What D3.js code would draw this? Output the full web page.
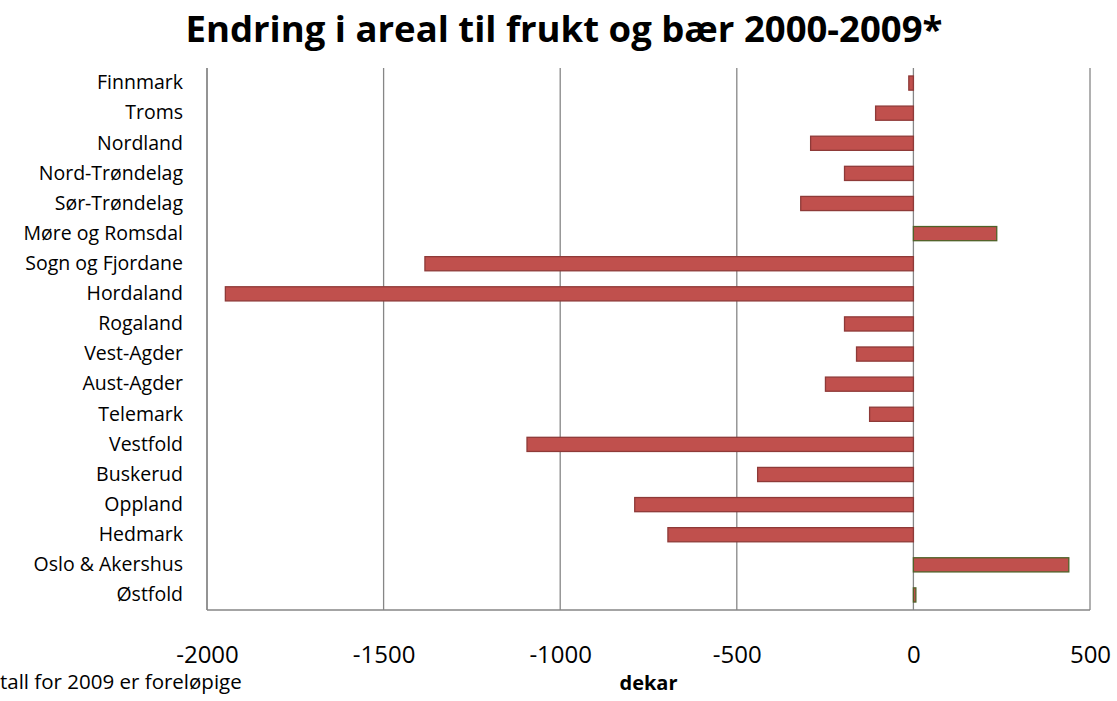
<!DOCTYPE html>
<html>
<head>
<meta charset="utf-8">
<script src="https://cdn.jsdelivr.net/npm/d3@7"></script>
<style>
  body { margin: 0; background: #fff; }
  text { font-family: "Open Sans", "Noto Sans", sans-serif; fill: #000; }
</style>
</head>
<body>
<div id="chart"></div>
<script>
// data (top to bottom)
const regions = ["Finnmark", "Troms", "Nordland", "Nord-Trøndelag", "Sør-Trøndelag",
  "Møre og Romsdal", "Sogn og Fjordane", "Hordaland", "Rogaland", "Vest-Agder",
  "Aust-Agder", "Telemark", "Vestfold", "Buskerud", "Oppland", "Hedmark",
  "Oslo & Akershus", "Østfold"];
const change = [-13, -107, -291, -195, -319, 236, -1383, -1948, -195, -161,
  -249, -124, -1094, -441, -789, -695, 440, 7];
const xTicks = [-2000, -1500, -1000, -500, 0, 500];

const W = 1117, H = 701;
const plotL = 207, plotR = 1090, plotT = 68, plotB = 610;
const font = "'Open Sans', 'Noto Sans', sans-serif";

const svg = d3.select("#chart")
    .append("svg")
    .attr("width", W)
    .attr("height", H);

const xScale = d3.scaleLinear().domain([-2000, 500]).range([plotL, plotR]);
const yScale = d3.scaleBand().domain(regions).range([plotT, plotB]).paddingInner(0.53).paddingOuter(0.265);

// gridlines
svg.append("g")
    .selectAll("line")
    .data(xTicks)
    .enter().append("line")
    .attr("x1", d => xScale(d)).attr("x2", d => xScale(d))
    .attr("y1", plotT).attr("y2", plotB)
    .attr("stroke", "#868686")
    .attr("stroke-width", 1.3);

// bars
svg.append("g")
    .selectAll("rect")
    .data(regions)
    .enter().append("rect")
    .attr("x", (d, i) => xScale(Math.min(0, change[i])))
    .attr("y", d => yScale(d))
    .attr("width", (d, i) => Math.abs(xScale(change[i]) - xScale(0)))
    .attr("height", yScale.bandwidth())
    .attr("fill", "#C0504D")
    .attr("stroke", (d, i) => change[i] < 0 ? "#8E3A38" : "#4F6228")
    .attr("stroke-width", 1.3);

// axis lines (left and bottom)
svg.append("line")
    .attr("x1", plotL).attr("x2", plotL).attr("y1", plotT).attr("y2", plotB)
    .attr("stroke", "#868686").attr("stroke-width", 1.3);
svg.append("line")
    .attr("x1", plotL).attr("x2", plotR).attr("y1", plotB).attr("y2", plotB)
    .attr("stroke", "#868686").attr("stroke-width", 1.3);

// category labels
const yAxis = svg.append("g")
    .attr("transform", `translate(${plotL}, 0)`)
    .call(d3.axisLeft(yScale).tickSize(0).tickPadding(24));
yAxis.select(".domain").remove();
yAxis.selectAll("text")
    .style("font-size", "19.5px")
    .style("font-family", font);

// x tick labels
const xAxis = svg.append("g")
    .attr("transform", `translate(0, ${plotB})`)
    .call(d3.axisBottom(xScale).tickValues(xTicks).tickSize(0).tickPadding(36));
xAxis.select(".domain").remove();
xAxis.selectAll("text")
    .style("font-size", "24px")
    .style("font-family", font)
    .text(d => String(d));

// title
svg.append("text")
    .attr("x", 564).attr("y", 42)
    .attr("text-anchor", "middle")
    .style("font-size", "36.5px")
    .style("font-weight", "bold")
    .text("Endring i areal til frukt og bær 2000-2009*");

// x axis label
svg.append("text")
    .attr("x", (plotL + plotR) / 2).attr("y", 690)
    .attr("text-anchor", "middle")
    .style("font-size", "20px")
    .style("font-weight", "bold")
    .text("dekar");

// footnote
svg.append("text")
    .attr("x", 0).attr("y", 689)
    .style("font-size", "20.5px")
    .text("tall for 2009 er foreløpige");
</script>
</body>
</html>
